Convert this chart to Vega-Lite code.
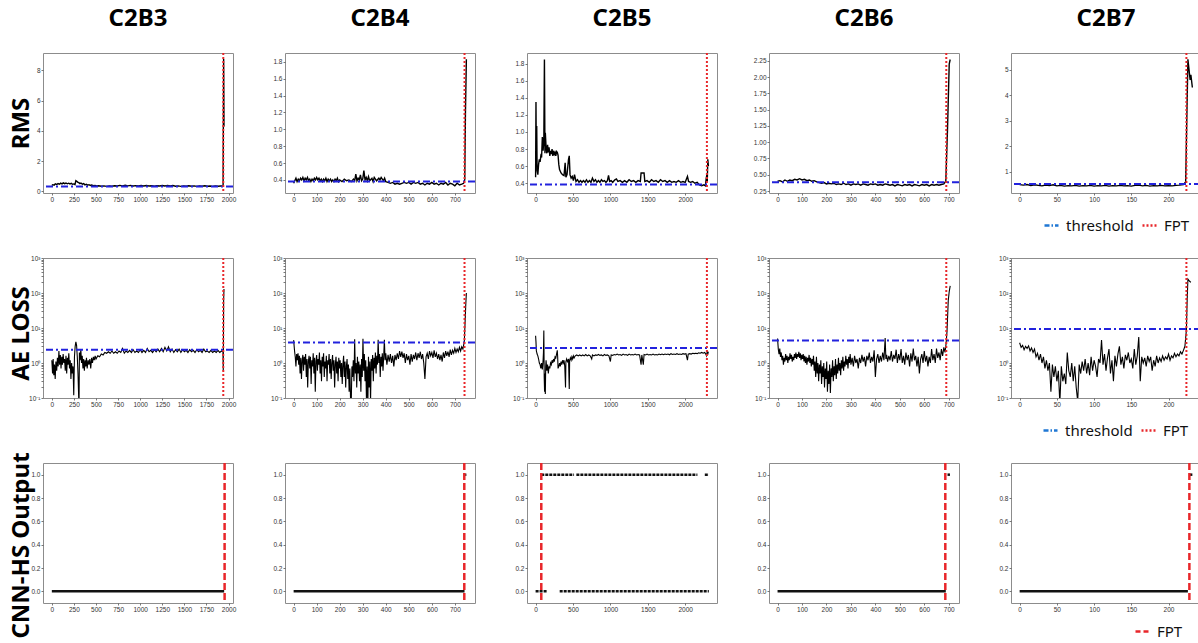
{
"$schema":"https://vega.github.io/schema/vega-lite/v6.json",
"padding":{"left":8,"top":6,"right":0,"bottom":0},
"background":"white",
"config":{
 "view":{"stroke":"#8c8c8c","strokeWidth":1},
 "axis":{"grid":false,"domain":false,"ticks":true,"tickSize":2,"tickColor":"#555","tickWidth":0.8,"labelFont":"Liberation Sans","labelFontSize":6.5,"labelColor":"#333","labelPadding":1,"labelOverlap":false,"labelFlush":false,"labelBound":false,"titleFont":"Noto Sans","titleFontSize":24,"titleFontWeight":"bold","titleColor":"#000"},
 "title":{"font":"Noto Sans","fontSize":24,"fontWeight":"bold","color":"#000","offset":21,"baseline":"alphabetic","frame":"group","anchor":"middle"},
 "legend":{"orient":"none","direction":"horizontal","title":null,"symbolType":"stroke","symbolSize":196,"symbolStrokeWidth":2.5,"labelFontSize":15,"labelFont":"Noto Sans","labelColor":"#111","columnPadding":3,"labelOffset":6,"padding":0,"gridAlign":"none"}
},
"datasets":{
"ref":[
 {"panel":"C2B3","metric":"RMS","threshold":0.33,"fpt":1940},
 {"panel":"C2B4","metric":"RMS","threshold":0.38,"fpt":742},
 {"panel":"C2B5","metric":"RMS","threshold":0.385,"fpt":2290},
 {"panel":"C2B6","metric":"RMS","threshold":0.387,"fpt":690},
 {"panel":"C2B7","metric":"RMS","threshold":0.52,"fpt":224},
 {"panel":"C2B3","metric":"AE","threshold":2.4,"fpt":1940},
 {"panel":"C2B4","metric":"AE","threshold":3.85,"fpt":742},
 {"panel":"C2B5","metric":"AE","threshold":2.7,"fpt":2290},
 {"panel":"C2B6","metric":"AE","threshold":4.4,"fpt":690},
 {"panel":"C2B7","metric":"AE","threshold":9.3,"fpt":224},
 {"panel":"C2B3","metric":"CNN","fpt":1955},
 {"panel":"C2B4","metric":"CNN","fpt":741},
 {"panel":"C2B5","metric":"CNN","fpt":76},
 {"panel":"C2B6","metric":"CNN","fpt":686},
 {"panel":"C2B7","metric":"CNN","fpt":228}
],
"cnn":[
 {"panel":"C2B3","start":0,"end":1950,"out":0},
 {"panel":"C2B4","start":0,"end":742,"out":0},
 {"panel":"C2B4","start":745,"end":750,"out":1},
 {"panel":"C2B5","start":0,"end":152,"out":0},
 {"panel":"C2B5","start":322,"end":2316,"out":0},
 {"panel":"C2B5","start":76,"end":514,"out":1},
 {"panel":"C2B5","start":545,"end":2163,"out":1},
 {"panel":"C2B5","start":2262,"end":2316,"out":1},
 {"panel":"C2B6","start":0,"end":688,"out":0},
 {"panel":"C2B6","start":695,"end":705,"out":1},
 {"panel":"C2B7","start":0,"end":226,"out":0},
 {"panel":"C2B7","start":228,"end":232,"out":1}
],
"leg1":[{"k1":"threshold"},{"k1":"FPT"}],
"leg2":[{"k2":"threshold"},{"k2":"FPT"}],
"leg3":[{"k3":"FPT"}],
"rms_c2b3":[
{"t":0,"v":0.40},{"t":10,"v":0.45},{"t":25,"v":0.42},{"t":40,"v":0.50},{"t":55,"v":0.46},{"t":70,"v":0.52},{"t":85,"v":0.48},{"t":100,"v":0.55},{"t":115,"v":0.50},{"t":130,"v":0.57},{"t":145,"v":0.52},{"t":160,"v":0.56},{"t":175,"v":0.51},{"t":190,"v":0.55},{"t":205,"v":0.50},{"t":220,"v":0.54},{"t":235,"v":0.48},{"t":250,"v":0.50},{"t":262,"v":0.45},{"t":272,"v":0.72},{"t":282,"v":0.68},{"t":292,"v":0.62},{"t":305,"v":0.58},{"t":318,"v":0.52},{"t":330,"v":0.56},{"t":345,"v":0.48},{"t":360,"v":0.52},{"t":375,"v":0.44},{"t":390,"v":0.48},{"t":405,"v":0.42},{"t":420,"v":0.45},{"t":435,"v":0.40},{"t":450,"v":0.43},{"t":470,"v":0.38},{"t":490,"v":0.40},{"t":510,"v":0.36},{"t":530,"v":0.38},{"t":560,"v":0.35},{"t":590,"v":0.37},{"t":620,"v":0.34},{"t":650,"v":0.36},{"t":680,"v":0.35},{"t":710,"v":0.38},{"t":740,"v":0.36},{"t":770,"v":0.40},{"t":800,"v":0.37},{"t":830,"v":0.41},{"t":860,"v":0.37},{"t":890,"v":0.40},{"t":920,"v":0.36},{"t":950,"v":0.39},{"t":980,"v":0.37},{"t":1010,"v":0.40},{"t":1040,"v":0.36},{"t":1070,"v":0.39},{"t":1100,"v":0.36},{"t":1130,"v":0.38},{"t":1160,"v":0.35},{"t":1190,"v":0.38},{"t":1220,"v":0.36},{"t":1250,"v":0.39},{"t":1280,"v":0.36},{"t":1310,"v":0.40},{"t":1340,"v":0.37},{"t":1370,"v":0.39},{"t":1400,"v":0.35},{"t":1430,"v":0.37},{"t":1460,"v":0.34},{"t":1490,"v":0.37},{"t":1520,"v":0.35},{"t":1550,"v":0.38},{"t":1580,"v":0.35},{"t":1610,"v":0.37},{"t":1640,"v":0.34},{"t":1670,"v":0.37},{"t":1700,"v":0.35},{"t":1730,"v":0.38},{"t":1760,"v":0.35},{"t":1790,"v":0.36},{"t":1820,"v":0.34},{"t":1850,"v":0.37},{"t":1880,"v":0.35},{"t":1910,"v":0.36},{"t":1938,"v":0.36},{"t":1944,"v":8.75},{"t":1948,"v":4.3}
],
"rms_c2b4":[
{"t":0,"v":0.36},{"t":5,"v":0.39},{"t":10,"v":0.42},{"t":15,"v":0.38},{"t":20,"v":0.41},{"t":25,"v":0.39},{"t":30,"v":0.42},{"t":35,"v":0.40},{"t":40,"v":0.43},{"t":45,"v":0.39},{"t":50,"v":0.42},{"t":55,"v":0.40},{"t":60,"v":0.43},{"t":65,"v":0.39},{"t":70,"v":0.41},{"t":75,"v":0.38},{"t":80,"v":0.41},{"t":85,"v":0.39},{"t":90,"v":0.42},{"t":95,"v":0.40},{"t":100,"v":0.43},{"t":105,"v":0.40},{"t":110,"v":0.42},{"t":115,"v":0.39},{"t":120,"v":0.41},{"t":125,"v":0.38},{"t":130,"v":0.41},{"t":135,"v":0.39},{"t":140,"v":0.42},{"t":145,"v":0.38},{"t":150,"v":0.41},{"t":155,"v":0.39},{"t":160,"v":0.41},{"t":165,"v":0.38},{"t":170,"v":0.40},{"t":175,"v":0.38},{"t":180,"v":0.41},{"t":185,"v":0.39},{"t":190,"v":0.42},{"t":195,"v":0.38},{"t":200,"v":0.40},{"t":210,"v":0.38},{"t":220,"v":0.41},{"t":230,"v":0.39},{"t":240,"v":0.40},{"t":250,"v":0.38},{"t":260,"v":0.41},{"t":265,"v":0.39},{"t":270,"v":0.47},{"t":275,"v":0.39},{"t":280,"v":0.42},{"t":285,"v":0.40},{"t":290,"v":0.46},{"t":295,"v":0.39},{"t":300,"v":0.41},{"t":305,"v":0.51},{"t":310,"v":0.40},{"t":315,"v":0.43},{"t":320,"v":0.39},{"t":325,"v":0.44},{"t":330,"v":0.39},{"t":340,"v":0.42},{"t":345,"v":0.38},{"t":350,"v":0.43},{"t":360,"v":0.39},{"t":370,"v":0.42},{"t":375,"v":0.40},{"t":380,"v":0.43},{"t":390,"v":0.39},{"t":395,"v":0.42},{"t":400,"v":0.38},{"t":410,"v":0.37},{"t":420,"v":0.36},{"t":430,"v":0.37},{"t":440,"v":0.35},{"t":450,"v":0.36},{"t":460,"v":0.35},{"t":470,"v":0.36},{"t":480,"v":0.37},{"t":490,"v":0.36},{"t":500,"v":0.37},{"t":510,"v":0.35},{"t":520,"v":0.37},{"t":530,"v":0.36},{"t":540,"v":0.37},{"t":550,"v":0.35},{"t":560,"v":0.36},{"t":570,"v":0.34},{"t":580,"v":0.36},{"t":590,"v":0.35},{"t":600,"v":0.37},{"t":610,"v":0.35},{"t":620,"v":0.36},{"t":630,"v":0.34},{"t":640,"v":0.36},{"t":650,"v":0.35},{"t":660,"v":0.37},{"t":670,"v":0.34},{"t":680,"v":0.36},{"t":690,"v":0.35},{"t":700,"v":0.33},{"t":710,"v":0.36},{"t":720,"v":0.34},{"t":730,"v":0.35},{"t":738,"v":0.36},{"t":743,"v":0.40},{"t":746,"v":1.2},{"t":750,"v":1.83}
],
"rms_c2b5":[
{"t":0,"v":0.47},{"t":5,"v":1.35},{"t":10,"v":0.62},{"t":15,"v":1.07},{"t":20,"v":0.55},{"t":30,"v":0.5},{"t":40,"v":0.62},{"t":50,"v":0.68},{"t":60,"v":0.65},{"t":70,"v":0.72},{"t":80,"v":0.7},{"t":90,"v":0.94},{"t":100,"v":0.78},{"t":110,"v":0.9},{"t":118,"v":1.85},{"t":125,"v":0.75},{"t":130,"v":0.99},{"t":140,"v":0.82},{"t":150,"v":0.75},{"t":160,"v":0.85},{"t":170,"v":0.76},{"t":180,"v":0.82},{"t":190,"v":0.72},{"t":200,"v":0.78},{"t":210,"v":0.74},{"t":220,"v":0.8},{"t":230,"v":0.72},{"t":240,"v":0.78},{"t":250,"v":0.74},{"t":260,"v":0.76},{"t":270,"v":0.72},{"t":280,"v":0.77},{"t":290,"v":0.76},{"t":300,"v":0.73},{"t":310,"v":0.62},{"t":320,"v":0.56},{"t":340,"v":0.52},{"t":360,"v":0.5},{"t":380,"v":0.49},{"t":395,"v":0.64},{"t":405,"v":0.47},{"t":420,"v":0.5},{"t":440,"v":0.68},{"t":450,"v":0.72},{"t":460,"v":0.5},{"t":475,"v":0.46},{"t":490,"v":0.48},{"t":505,"v":0.43},{"t":520,"v":0.5},{"t":540,"v":0.42},{"t":560,"v":0.44},{"t":580,"v":0.41},{"t":600,"v":0.43},{"t":620,"v":0.41},{"t":640,"v":0.43},{"t":660,"v":0.41},{"t":680,"v":0.44},{"t":700,"v":0.41},{"t":720,"v":0.43},{"t":740,"v":0.41},{"t":760,"v":0.46},{"t":780,"v":0.42},{"t":800,"v":0.44},{"t":820,"v":0.41},{"t":840,"v":0.43},{"t":860,"v":0.41},{"t":880,"v":0.44},{"t":900,"v":0.42},{"t":920,"v":0.43},{"t":940,"v":0.41},{"t":960,"v":0.43},{"t":975,"v":0.49},{"t":990,"v":0.42},{"t":1010,"v":0.43},{"t":1030,"v":0.41},{"t":1060,"v":0.44},{"t":1080,"v":0.45},{"t":1100,"v":0.42},{"t":1130,"v":0.43},{"t":1160,"v":0.41},{"t":1190,"v":0.43},{"t":1220,"v":0.41},{"t":1250,"v":0.44},{"t":1280,"v":0.42},{"t":1310,"v":0.43},{"t":1340,"v":0.41},{"t":1370,"v":0.43},{"t":1400,"v":0.42},{"t":1410,"v":0.52},{"t":1450,"v":0.52},{"t":1460,"v":0.42},{"t":1490,"v":0.43},{"t":1520,"v":0.41},{"t":1550,"v":0.44},{"t":1580,"v":0.42},{"t":1610,"v":0.43},{"t":1640,"v":0.41},{"t":1670,"v":0.44},{"t":1700,"v":0.42},{"t":1730,"v":0.43},{"t":1760,"v":0.41},{"t":1790,"v":0.43},{"t":1820,"v":0.41},{"t":1850,"v":0.42},{"t":1880,"v":0.41},{"t":1910,"v":0.43},{"t":1940,"v":0.41},{"t":1970,"v":0.42},{"t":2000,"v":0.41},{"t":2030,"v":0.48},{"t":2045,"v":0.42},{"t":2070,"v":0.41},{"t":2100,"v":0.42},{"t":2130,"v":0.40},{"t":2160,"v":0.41},{"t":2190,"v":0.38},{"t":2220,"v":0.37},{"t":2250,"v":0.38},{"t":2270,"v":0.37},{"t":2280,"v":0.45},{"t":2290,"v":0.5},{"t":2295,"v":0.42},{"t":2302,"v":0.68},{"t":2310,"v":0.6}
],
"rms_c2b6":[
{"t":0,"v":0.40},{"t":10,"v":0.41},{"t":20,"v":0.39},{"t":30,"v":0.42},{"t":40,"v":0.40},{"t":50,"v":0.42},{"t":60,"v":0.41},{"t":70,"v":0.43},{"t":80,"v":0.42},{"t":90,"v":0.44},{"t":100,"v":0.42},{"t":110,"v":0.43},{"t":120,"v":0.41},{"t":130,"v":0.42},{"t":140,"v":0.40},{"t":150,"v":0.41},{"t":160,"v":0.39},{"t":170,"v":0.38},{"t":180,"v":0.37},{"t":190,"v":0.38},{"t":200,"v":0.36},{"t":210,"v":0.37},{"t":220,"v":0.36},{"t":230,"v":0.37},{"t":240,"v":0.35},{"t":250,"v":0.36},{"t":260,"v":0.35},{"t":270,"v":0.37},{"t":280,"v":0.35},{"t":290,"v":0.36},{"t":300,"v":0.34},{"t":310,"v":0.36},{"t":320,"v":0.35},{"t":330,"v":0.36},{"t":340,"v":0.34},{"t":350,"v":0.36},{"t":360,"v":0.35},{"t":370,"v":0.34},{"t":380,"v":0.36},{"t":390,"v":0.35},{"t":400,"v":0.36},{"t":410,"v":0.34},{"t":420,"v":0.35},{"t":430,"v":0.34},{"t":440,"v":0.36},{"t":450,"v":0.35},{"t":460,"v":0.34},{"t":470,"v":0.35},{"t":480,"v":0.33},{"t":490,"v":0.35},{"t":500,"v":0.34},{"t":510,"v":0.33},{"t":520,"v":0.35},{"t":530,"v":0.34},{"t":540,"v":0.35},{"t":550,"v":0.33},{"t":560,"v":0.35},{"t":570,"v":0.34},{"t":580,"v":0.33},{"t":590,"v":0.35},{"t":600,"v":0.34},{"t":610,"v":0.35},{"t":620,"v":0.33},{"t":630,"v":0.35},{"t":640,"v":0.34},{"t":650,"v":0.35},{"t":660,"v":0.34},{"t":670,"v":0.35},{"t":680,"v":0.36},{"t":688,"v":0.40},{"t":695,"v":1.2},{"t":702,"v":2.2},{"t":706,"v":2.27}
],
"rms_c2b7":[
{"t":0,"v":0.5},{"t":5,"v":0.48},{"t":10,"v":0.5},{"t":15,"v":0.46},{"t":20,"v":0.49},{"t":25,"v":0.47},{"t":30,"v":0.45},{"t":35,"v":0.48},{"t":40,"v":0.46},{"t":45,"v":0.49},{"t":50,"v":0.45},{"t":55,"v":0.47},{"t":60,"v":0.44},{"t":65,"v":0.46},{"t":70,"v":0.45},{"t":75,"v":0.47},{"t":80,"v":0.44},{"t":85,"v":0.46},{"t":90,"v":0.45},{"t":95,"v":0.47},{"t":100,"v":0.44},{"t":105,"v":0.46},{"t":110,"v":0.45},{"t":115,"v":0.47},{"t":120,"v":0.44},{"t":125,"v":0.46},{"t":130,"v":0.45},{"t":135,"v":0.47},{"t":140,"v":0.45},{"t":145,"v":0.46},{"t":150,"v":0.44},{"t":155,"v":0.47},{"t":160,"v":0.48},{"t":165,"v":0.45},{"t":170,"v":0.47},{"t":175,"v":0.44},{"t":180,"v":0.46},{"t":185,"v":0.45},{"t":190,"v":0.47},{"t":195,"v":0.45},{"t":200,"v":0.46},{"t":205,"v":0.45},{"t":210,"v":0.47},{"t":215,"v":0.48},{"t":220,"v":0.5},{"t":223,"v":0.6},{"t":226,"v":5.4},{"t":229,"v":4.6},{"t":230,"v":4.8},{"t":232,"v":4.3}
],
"ae_c2b3":[
{"t":0,"v":1.2},{"t":8,"v":0.5},{"t":15,"v":1.3},{"t":22,"v":0.45},{"t":30,"v":0.9},{"t":38,"v":0.35},{"t":46,"v":1.1},{"t":55,"v":0.6},{"t":63,"v":1.4},{"t":72,"v":0.8},{"t":80,"v":2.2},{"t":88,"v":0.9},{"t":96,"v":1.7},{"t":104,"v":0.7},{"t":112,"v":1.5},{"t":120,"v":0.9},{"t":128,"v":1.8},{"t":136,"v":1.0},{"t":144,"v":1.3},{"t":152,"v":0.6},{"t":160,"v":1.6},{"t":168,"v":0.5},{"t":176,"v":1.4},{"t":184,"v":0.9},{"t":192,"v":1.9},{"t":200,"v":0.7},{"t":208,"v":1.2},{"t":216,"v":0.35},{"t":224,"v":1.0},{"t":232,"v":0.5},{"t":240,"v":0.8},{"t":248,"v":0.12},{"t":256,"v":1.5},{"t":264,"v":3.0},{"t":272,"v":4.0},{"t":280,"v":3.2},{"t":288,"v":1.5},{"t":296,"v":0.5},{"t":304,"v":0.1},{"t":308,"v":0.08},{"t":312,"v":2.0},{"t":320,"v":1.2},{"t":328,"v":2.5},{"t":336,"v":1.0},{"t":344,"v":1.6},{"t":352,"v":0.7},{"t":360,"v":1.3},{"t":368,"v":0.6},{"t":376,"v":1.2},{"t":384,"v":0.8},{"t":392,"v":1.4},{"t":400,"v":0.7},{"t":410,"v":1.2},{"t":420,"v":0.9},{"t":430,"v":1.3},{"t":440,"v":0.7},{"t":450,"v":1.4},{"t":460,"v":1.0},{"t":470,"v":1.5},{"t":480,"v":1.2},{"t":490,"v":1.6},{"t":500,"v":1.3},{"t":520,"v":1.6},{"t":540,"v":1.5},{"t":560,"v":1.8},{"t":580,"v":1.7},{"t":600,"v":2.0},{"t":620,"v":1.9},{"t":640,"v":2.1},{"t":660,"v":1.9},{"t":680,"v":2.2},{"t":700,"v":1.9},{"t":720,"v":2.1},{"t":740,"v":1.9},{"t":760,"v":2.2},{"t":780,"v":2.0},{"t":800,"v":2.6},{"t":820,"v":1.9},{"t":840,"v":2.2},{"t":860,"v":2.0},{"t":880,"v":2.3},{"t":900,"v":2.0},{"t":920,"v":2.4},{"t":940,"v":2.0},{"t":960,"v":2.2},{"t":980,"v":2.0},{"t":1000,"v":2.4},{"t":1020,"v":2.0},{"t":1040,"v":2.3},{"t":1060,"v":2.0},{"t":1080,"v":2.6},{"t":1100,"v":2.1},{"t":1120,"v":2.3},{"t":1140,"v":2.0},{"t":1160,"v":2.4},{"t":1180,"v":2.1},{"t":1200,"v":2.5},{"t":1220,"v":2.1},{"t":1240,"v":2.6},{"t":1260,"v":2.1},{"t":1280,"v":2.8},{"t":1300,"v":2.2},{"t":1320,"v":2.9},{"t":1340,"v":2.1},{"t":1360,"v":2.5},{"t":1380,"v":2.0},{"t":1400,"v":2.4},{"t":1420,"v":2.1},{"t":1440,"v":2.5},{"t":1460,"v":2.0},{"t":1480,"v":2.4},{"t":1500,"v":2.1},{"t":1520,"v":2.3},{"t":1540,"v":2.0},{"t":1560,"v":2.4},{"t":1580,"v":2.1},{"t":1600,"v":2.3},{"t":1620,"v":2.0},{"t":1640,"v":2.4},{"t":1660,"v":2.1},{"t":1680,"v":2.3},{"t":1700,"v":2.0},{"t":1720,"v":2.5},{"t":1740,"v":2.1},{"t":1760,"v":2.2},{"t":1780,"v":2.0},{"t":1800,"v":2.3},{"t":1820,"v":2.0},{"t":1840,"v":2.2},{"t":1860,"v":2.0},{"t":1880,"v":2.3},{"t":1900,"v":2.0},{"t":1920,"v":2.2},{"t":1936,"v":2.1},{"t":1940,"v":0.6},{"t":1944,"v":60},{"t":1948,"v":130}
],
"ae_c2b4":[
{"t":0,"v":4.5},{"t":4,"v":2.2},{"t":7,"v":1.5},{"t":10,"v":0.8},{"t":13,"v":1.8},{"t":16,"v":1.2},{"t":19,"v":1.9},{"t":22,"v":0.9},{"t":25,"v":1.6},{"t":28,"v":0.5},{"t":31,"v":1.4},{"t":34,"v":0.35},{"t":37,"v":1.2},{"t":40,"v":1.7},{"t":43,"v":0.6},{"t":46,"v":1.5},{"t":49,"v":0.9},{"t":52,"v":1.8},{"t":55,"v":0.4},{"t":58,"v":1.3},{"t":61,"v":0.2},{"t":64,"v":1.1},{"t":67,"v":1.6},{"t":70,"v":0.7},{"t":73,"v":1.5},{"t":76,"v":0.25},{"t":79,"v":1.2},{"t":82,"v":0.8},{"t":85,"v":1.9},{"t":88,"v":0.5},{"t":91,"v":1.4},{"t":94,"v":0.15},{"t":97,"v":1.1},{"t":100,"v":1.7},{"t":103,"v":0.6},{"t":106,"v":1.3},{"t":109,"v":0.9},{"t":112,"v":2.0},{"t":115,"v":0.5},{"t":118,"v":1.2},{"t":121,"v":0.3},{"t":124,"v":1.5},{"t":127,"v":0.8},{"t":130,"v":1.9},{"t":133,"v":0.4},{"t":136,"v":1.1},{"t":139,"v":0.7},{"t":142,"v":1.6},{"t":145,"v":0.3},{"t":148,"v":1.2},{"t":151,"v":0.9},{"t":154,"v":1.8},{"t":157,"v":0.5},{"t":160,"v":1.3},{"t":163,"v":0.35},{"t":166,"v":1.0},{"t":169,"v":1.7},{"t":172,"v":0.6},{"t":175,"v":1.2},{"t":178,"v":0.2},{"t":181,"v":0.9},{"t":184,"v":1.5},{"t":187,"v":0.5},{"t":190,"v":1.1},{"t":193,"v":0.3},{"t":196,"v":1.4},{"t":199,"v":0.7},{"t":202,"v":1.2},{"t":205,"v":0.4},{"t":208,"v":1.0},{"t":211,"v":0.25},{"t":214,"v":0.9},{"t":217,"v":1.6},{"t":220,"v":0.4},{"t":223,"v":1.1},{"t":226,"v":0.2},{"t":229,"v":0.8},{"t":232,"v":1.3},{"t":235,"v":0.35},{"t":238,"v":0.9},{"t":241,"v":0.15},{"t":244,"v":0.7},{"t":247,"v":0.1},{"t":250,"v":0.06},{"t":253,"v":0.8},{"t":256,"v":0.4},{"t":259,"v":1.2},{"t":262,"v":0.3},{"t":265,"v":4.8},{"t":268,"v":0.5},{"t":271,"v":1.0},{"t":274,"v":0.2},{"t":277,"v":1.5},{"t":280,"v":0.5},{"t":283,"v":1.1},{"t":286,"v":0.3},{"t":289,"v":0.9},{"t":292,"v":0.15},{"t":295,"v":1.3},{"t":298,"v":0.4},{"t":301,"v":4.9},{"t":304,"v":0.6},{"t":307,"v":1.8},{"t":310,"v":0.3},{"t":313,"v":1.2},{"t":316,"v":0.1},{"t":319,"v":0.8},{"t":322,"v":0.05},{"t":325,"v":1.5},{"t":328,"v":0.2},{"t":331,"v":1.1},{"t":334,"v":0.08},{"t":337,"v":1.3},{"t":340,"v":0.6},{"t":343,"v":1.7},{"t":346,"v":0.3},{"t":349,"v":1.4},{"t":352,"v":0.7},{"t":355,"v":2.0},{"t":358,"v":0.5},{"t":361,"v":1.6},{"t":364,"v":0.9},{"t":367,"v":4.6},{"t":370,"v":1.0},{"t":373,"v":1.8},{"t":376,"v":0.4},{"t":379,"v":1.5},{"t":382,"v":0.8},{"t":385,"v":1.9},{"t":388,"v":0.6},{"t":391,"v":1.5},{"t":394,"v":4.6},{"t":397,"v":1.2},{"t":400,"v":1.9},{"t":405,"v":0.9},{"t":410,"v":1.7},{"t":415,"v":1.1},{"t":420,"v":1.8},{"t":425,"v":1.0},{"t":430,"v":1.6},{"t":435,"v":0.8},{"t":440,"v":1.7},{"t":445,"v":1.2},{"t":450,"v":1.9},{"t":455,"v":1.3},{"t":460,"v":2.2},{"t":465,"v":1.5},{"t":470,"v":2.1},{"t":475,"v":1.4},{"t":480,"v":1.9},{"t":485,"v":1.0},{"t":490,"v":1.8},{"t":495,"v":1.2},{"t":500,"v":1.6},{"t":505,"v":0.9},{"t":510,"v":1.8},{"t":515,"v":1.1},{"t":520,"v":1.7},{"t":525,"v":1.3},{"t":530,"v":2.0},{"t":535,"v":1.2},{"t":540,"v":1.9},{"t":545,"v":1.4},{"t":550,"v":2.1},{"t":555,"v":1.3},{"t":560,"v":1.8},{"t":565,"v":1.0},{"t":570,"v":0.35},{"t":575,"v":1.5},{"t":580,"v":1.9},{"t":585,"v":1.3},{"t":590,"v":2.2},{"t":595,"v":1.6},{"t":600,"v":2.0},{"t":605,"v":1.4},{"t":610,"v":2.3},{"t":615,"v":1.5},{"t":620,"v":1.9},{"t":625,"v":1.3},{"t":630,"v":1.8},{"t":635,"v":1.2},{"t":640,"v":1.7},{"t":645,"v":1.1},{"t":650,"v":2.0},{"t":655,"v":1.4},{"t":660,"v":2.2},{"t":665,"v":1.6},{"t":670,"v":2.1},{"t":675,"v":1.5},{"t":680,"v":2.4},{"t":685,"v":1.7},{"t":690,"v":2.3},{"t":695,"v":1.9},{"t":700,"v":2.6},{"t":705,"v":2.0},{"t":710,"v":2.5},{"t":715,"v":2.1},{"t":720,"v":2.8},{"t":725,"v":2.2},{"t":730,"v":2.9},{"t":735,"v":2.5},{"t":738,"v":3.2},{"t":741,"v":4},{"t":744,"v":12},{"t":747,"v":40},{"t":750,"v":100}
],
"ae_c2b5":[
{"t":0,"v":6.0},{"t":5,"v":4.0},{"t":10,"v":2.2},{"t":15,"v":2.0},{"t":20,"v":1.8},{"t":30,"v":1.6},{"t":40,"v":1.3},{"t":50,"v":1.0},{"t":60,"v":0.9},{"t":70,"v":0.7},{"t":80,"v":1.0},{"t":90,"v":0.65},{"t":100,"v":1.2},{"t":105,"v":2.0},{"t":110,"v":8.5},{"t":115,"v":0.4},{"t":120,"v":0.15},{"t":125,"v":0.5},{"t":130,"v":0.13},{"t":135,"v":0.8},{"t":140,"v":1.2},{"t":150,"v":0.6},{"t":160,"v":0.9},{"t":170,"v":0.5},{"t":180,"v":0.8},{"t":190,"v":0.7},{"t":200,"v":1.0},{"t":210,"v":0.9},{"t":220,"v":1.2},{"t":230,"v":1.0},{"t":240,"v":1.3},{"t":250,"v":1.1},{"t":260,"v":1.5},{"t":270,"v":1.4},{"t":280,"v":1.8},{"t":290,"v":2.3},{"t":295,"v":1.5},{"t":300,"v":0.7},{"t":310,"v":0.8},{"t":320,"v":1.0},{"t":330,"v":0.8},{"t":340,"v":1.1},{"t":350,"v":0.9},{"t":360,"v":1.2},{"t":370,"v":1.0},{"t":380,"v":1.2},{"t":390,"v":0.8},{"t":400,"v":0.2},{"t":405,"v":1.1},{"t":415,"v":1.3},{"t":425,"v":1.1},{"t":440,"v":1.3},{"t":450,"v":0.18},{"t":455,"v":1.2},{"t":465,"v":1.4},{"t":475,"v":1.2},{"t":485,"v":1.5},{"t":495,"v":1.3},{"t":505,"v":1.6},{"t":515,"v":1.4},{"t":530,"v":1.6},{"t":550,"v":1.7},{"t":570,"v":1.6},{"t":590,"v":1.7},{"t":610,"v":1.6},{"t":630,"v":1.7},{"t":650,"v":1.6},{"t":670,"v":1.75},{"t":690,"v":1.6},{"t":710,"v":1.7},{"t":730,"v":1.6},{"t":750,"v":1.3},{"t":760,"v":1.7},{"t":780,"v":1.6},{"t":800,"v":1.7},{"t":820,"v":1.65},{"t":840,"v":1.75},{"t":860,"v":1.65},{"t":880,"v":1.7},{"t":900,"v":1.6},{"t":920,"v":1.75},{"t":940,"v":1.65},{"t":960,"v":1.7},{"t":980,"v":1.6},{"t":1000,"v":1.1},{"t":1010,"v":1.7},{"t":1030,"v":1.65},{"t":1050,"v":1.75},{"t":1070,"v":1.7},{"t":1090,"v":1.8},{"t":1110,"v":1.7},{"t":1130,"v":1.75},{"t":1150,"v":1.65},{"t":1170,"v":1.8},{"t":1190,"v":1.7},{"t":1210,"v":1.75},{"t":1230,"v":1.65},{"t":1250,"v":1.8},{"t":1270,"v":1.7},{"t":1290,"v":1.75},{"t":1310,"v":1.7},{"t":1330,"v":1.8},{"t":1350,"v":1.7},{"t":1370,"v":1.75},{"t":1390,"v":1.7},{"t":1410,"v":0.9},{"t":1420,"v":1.7},{"t":1440,"v":0.9},{"t":1450,"v":1.75},{"t":1470,"v":1.7},{"t":1490,"v":1.8},{"t":1510,"v":1.7},{"t":1530,"v":1.75},{"t":1550,"v":1.7},{"t":1570,"v":1.8},{"t":1590,"v":1.7},{"t":1610,"v":1.75},{"t":1630,"v":1.7},{"t":1650,"v":1.8},{"t":1670,"v":1.72},{"t":1690,"v":1.8},{"t":1710,"v":1.72},{"t":1730,"v":1.8},{"t":1750,"v":1.75},{"t":1770,"v":1.8},{"t":1790,"v":1.72},{"t":1810,"v":1.85},{"t":1830,"v":1.75},{"t":1850,"v":1.8},{"t":1870,"v":1.75},{"t":1890,"v":1.85},{"t":1910,"v":1.75},{"t":1930,"v":1.8},{"t":1950,"v":1.75},{"t":1970,"v":1.85},{"t":1990,"v":1.8},{"t":2010,"v":1.85},{"t":2030,"v":1.2},{"t":2040,"v":1.8},{"t":2060,"v":1.85},{"t":2080,"v":1.8},{"t":2100,"v":1.9},{"t":2120,"v":1.85},{"t":2140,"v":1.9},{"t":2160,"v":1.85},{"t":2180,"v":1.95},{"t":2200,"v":1.9},{"t":2220,"v":2.0},{"t":2240,"v":1.9},{"t":2260,"v":2.0},{"t":2275,"v":1.8},{"t":2285,"v":1.6},{"t":2295,"v":2.2},{"t":2305,"v":1.9},{"t":2310,"v":2.1}
],
"ae_c2b6":[
{"t":0,"v":5.0},{"t":3,"v":2.5},{"t":6,"v":1.8},{"t":9,"v":2.6},{"t":12,"v":1.5},{"t":15,"v":2.0},{"t":18,"v":1.2},{"t":21,"v":1.6},{"t":24,"v":0.9},{"t":27,"v":1.4},{"t":30,"v":1.1},{"t":33,"v":1.8},{"t":36,"v":1.2},{"t":39,"v":1.6},{"t":42,"v":1.0},{"t":45,"v":1.5},{"t":48,"v":1.2},{"t":51,"v":1.9},{"t":54,"v":1.3},{"t":57,"v":1.7},{"t":60,"v":1.1},{"t":63,"v":1.5},{"t":66,"v":1.2},{"t":69,"v":1.8},{"t":72,"v":1.4},{"t":75,"v":2.0},{"t":78,"v":1.3},{"t":81,"v":1.8},{"t":84,"v":1.5},{"t":87,"v":2.1},{"t":90,"v":1.4},{"t":93,"v":1.9},{"t":96,"v":1.2},{"t":99,"v":1.7},{"t":102,"v":1.3},{"t":105,"v":1.8},{"t":108,"v":1.1},{"t":111,"v":1.6},{"t":114,"v":1.0},{"t":117,"v":1.5},{"t":120,"v":0.9},{"t":123,"v":1.4},{"t":126,"v":1.1},{"t":129,"v":1.7},{"t":132,"v":1.0},{"t":135,"v":1.4},{"t":138,"v":0.8},{"t":141,"v":1.3},{"t":144,"v":0.9},{"t":147,"v":1.6},{"t":150,"v":0.6},{"t":153,"v":1.1},{"t":156,"v":0.4},{"t":159,"v":1.5},{"t":162,"v":0.5},{"t":165,"v":1.0},{"t":168,"v":0.3},{"t":171,"v":0.9},{"t":174,"v":0.5},{"t":177,"v":1.2},{"t":180,"v":0.25},{"t":183,"v":0.8},{"t":186,"v":0.4},{"t":189,"v":1.0},{"t":192,"v":0.2},{"t":195,"v":0.7},{"t":198,"v":0.35},{"t":201,"v":1.1},{"t":204,"v":0.15},{"t":207,"v":0.6},{"t":210,"v":0.25},{"t":213,"v":0.9},{"t":216,"v":0.14},{"t":219,"v":0.7},{"t":222,"v":0.4},{"t":225,"v":1.2},{"t":228,"v":0.3},{"t":231,"v":0.8},{"t":234,"v":0.45},{"t":237,"v":1.3},{"t":240,"v":0.35},{"t":243,"v":0.9},{"t":246,"v":0.5},{"t":249,"v":1.4},{"t":252,"v":0.6},{"t":255,"v":1.0},{"t":258,"v":0.45},{"t":261,"v":1.2},{"t":264,"v":0.7},{"t":267,"v":1.5},{"t":270,"v":0.6},{"t":273,"v":1.1},{"t":276,"v":0.8},{"t":279,"v":1.6},{"t":282,"v":0.9},{"t":285,"v":1.3},{"t":288,"v":0.7},{"t":291,"v":1.5},{"t":294,"v":1.0},{"t":297,"v":1.8},{"t":300,"v":0.9},{"t":305,"v":1.4},{"t":310,"v":0.8},{"t":315,"v":1.6},{"t":320,"v":1.0},{"t":325,"v":1.3},{"t":330,"v":0.7},{"t":335,"v":1.4},{"t":340,"v":1.0},{"t":345,"v":1.7},{"t":350,"v":1.1},{"t":355,"v":1.5},{"t":360,"v":0.8},{"t":365,"v":1.6},{"t":370,"v":1.2},{"t":375,"v":2.0},{"t":380,"v":1.0},{"t":385,"v":1.5},{"t":390,"v":1.1},{"t":395,"v":2.3},{"t":400,"v":0.4},{"t":405,"v":1.3},{"t":410,"v":1.8},{"t":415,"v":1.0},{"t":420,"v":1.6},{"t":425,"v":1.1},{"t":430,"v":2.0},{"t":435,"v":1.2},{"t":440,"v":5.2},{"t":443,"v":1.3},{"t":446,"v":1.7},{"t":450,"v":1.1},{"t":455,"v":1.6},{"t":460,"v":1.2},{"t":465,"v":2.2},{"t":470,"v":1.1},{"t":475,"v":1.7},{"t":480,"v":1.3},{"t":485,"v":2.4},{"t":490,"v":1.0},{"t":495,"v":1.8},{"t":500,"v":1.2},{"t":505,"v":2.5},{"t":510,"v":1.0},{"t":515,"v":1.6},{"t":520,"v":0.9},{"t":525,"v":2.0},{"t":530,"v":1.2},{"t":535,"v":1.7},{"t":540,"v":0.8},{"t":545,"v":1.9},{"t":550,"v":1.1},{"t":555,"v":2.6},{"t":560,"v":1.2},{"t":565,"v":1.6},{"t":570,"v":0.8},{"t":575,"v":1.5},{"t":580,"v":0.5},{"t":585,"v":1.3},{"t":590,"v":1.8},{"t":595,"v":1.0},{"t":600,"v":2.2},{"t":605,"v":1.1},{"t":610,"v":1.6},{"t":615,"v":0.8},{"t":620,"v":1.5},{"t":625,"v":1.0},{"t":630,"v":2.5},{"t":635,"v":1.2},{"t":640,"v":1.8},{"t":645,"v":1.0},{"t":650,"v":2.6},{"t":655,"v":1.4},{"t":660,"v":2.0},{"t":665,"v":1.2},{"t":670,"v":2.5},{"t":675,"v":1.6},{"t":680,"v":2.8},{"t":685,"v":2.0},{"t":689,"v":3.5},{"t":693,"v":8},{"t":698,"v":60},{"t":702,"v":110},{"t":706,"v":160}
],
"ae_c2b7":[
{"t":0,"v":3.8},{"t":2,"v":2.8},{"t":4,"v":3.2},{"t":6,"v":2.4},{"t":8,"v":3.0},{"t":10,"v":2.6},{"t":12,"v":3.1},{"t":14,"v":2.2},{"t":16,"v":2.7},{"t":18,"v":2.0},{"t":20,"v":2.5},{"t":22,"v":1.5},{"t":24,"v":1.9},{"t":26,"v":1.2},{"t":28,"v":1.8},{"t":30,"v":1.0},{"t":32,"v":1.5},{"t":34,"v":0.7},{"t":36,"v":1.2},{"t":38,"v":0.6},{"t":40,"v":1.0},{"t":42,"v":0.15},{"t":44,"v":0.9},{"t":46,"v":0.4},{"t":48,"v":0.8},{"t":50,"v":0.3},{"t":52,"v":0.6},{"t":54,"v":0.07},{"t":56,"v":0.8},{"t":58,"v":0.3},{"t":60,"v":0.5},{"t":62,"v":0.25},{"t":64,"v":2.0},{"t":66,"v":0.6},{"t":68,"v":0.4},{"t":70,"v":1.0},{"t":72,"v":0.3},{"t":74,"v":0.8},{"t":76,"v":0.2},{"t":78,"v":0.08},{"t":80,"v":0.9},{"t":82,"v":0.5},{"t":84,"v":1.1},{"t":86,"v":0.6},{"t":88,"v":1.3},{"t":90,"v":0.5},{"t":92,"v":1.0},{"t":94,"v":0.45},{"t":96,"v":1.5},{"t":98,"v":0.6},{"t":100,"v":1.2},{"t":102,"v":0.8},{"t":104,"v":0.4},{"t":106,"v":1.3},{"t":108,"v":1.0},{"t":110,"v":4.5},{"t":112,"v":0.9},{"t":114,"v":1.8},{"t":116,"v":0.6},{"t":118,"v":1.4},{"t":120,"v":2.5},{"t":122,"v":0.5},{"t":124,"v":1.2},{"t":126,"v":0.3},{"t":128,"v":1.6},{"t":130,"v":0.8},{"t":132,"v":1.8},{"t":134,"v":3.0},{"t":136,"v":0.9},{"t":138,"v":1.5},{"t":140,"v":0.7},{"t":142,"v":1.7},{"t":144,"v":1.2},{"t":146,"v":2.0},{"t":148,"v":1.0},{"t":150,"v":1.3},{"t":152,"v":0.7},{"t":154,"v":2.5},{"t":156,"v":0.9},{"t":158,"v":1.6},{"t":160,"v":5.5},{"t":162,"v":0.3},{"t":164,"v":1.5},{"t":166,"v":1.0},{"t":168,"v":1.4},{"t":170,"v":0.8},{"t":172,"v":1.6},{"t":174,"v":1.1},{"t":176,"v":1.5},{"t":178,"v":0.6},{"t":180,"v":1.2},{"t":182,"v":0.8},{"t":184,"v":1.6},{"t":186,"v":1.0},{"t":188,"v":1.4},{"t":190,"v":1.1},{"t":192,"v":1.6},{"t":194,"v":1.2},{"t":196,"v":1.5},{"t":198,"v":1.3},{"t":200,"v":1.8},{"t":202,"v":1.2},{"t":204,"v":1.6},{"t":206,"v":1.4},{"t":208,"v":1.9},{"t":210,"v":1.5},{"t":212,"v":1.8},{"t":214,"v":1.6},{"t":216,"v":2.1},{"t":218,"v":1.8},{"t":220,"v":2.3},{"t":222,"v":3.0},{"t":224,"v":9},{"t":225,"v":60},{"t":226,"v":250},{"t":228,"v":220},{"t":230,"v":200}
]
},
"bounds":"flush",
"columns":5,
"spacing":{"row":65,"column":52},
"resolve":{"scale":{"color":"independent","strokeDash":"independent"},"legend":{"color":"independent","strokeDash":"independent"}},
"concat":[
 {"width":190,"height":140,"title":{"text":"C2B3"},
  "layer":[
   {"data":{"name":"rms_c2b3"},"mark":{"type":"line","color":"#000","strokeWidth":1.4,"clip":true},
    "encoding":{"x":{"field":"t","type":"quantitative","scale":{"domain":[-100,2050],"nice":false,"zero":false},"axis":{"values":[0,250,500,750,1000,1250,1500,1750,2000],"tickCount":100,"format":"d","labelOverlap":false,"title":null}},
     "y":{"field":"v","type":"quantitative","scale":{"domain":[-0.1,9.15],"nice":false,"zero":false},"axis":{"values":[0,2,4,6,8],"tickCount":100,"format":"d","labelOverlap":false,"title":"RMS","titleX":-15,"titleY":70,"titleBaseline":"alphabetic"}}}},
   {"data":{"name":"ref"},"transform":[{"filter":"datum.panel=='C2B3' && datum.metric=='RMS'"}],"mark":{"type":"rule","color":"#2222dd","strokeWidth":2,"strokeDash":[7,3,2,3]},"encoding":{"y":{"field":"threshold","type":"quantitative"}}},
   {"data":{"name":"ref"},"transform":[{"filter":"datum.panel=='C2B3' && datum.metric=='RMS'"}],"mark":{"type":"rule","color":"#e8262a","strokeWidth":2,"strokeDash":[2,2]},"encoding":{"x":{"field":"fpt","type":"quantitative"}}}
  ]},
 {"width":190,"height":140,"title":{"text":"C2B4"},
  "layer":[
   {"data":{"name":"rms_c2b4"},"mark":{"type":"line","color":"#000","strokeWidth":1.4,"clip":true},
    "encoding":{"x":{"field":"t","type":"quantitative","scale":{"domain":[-37.5,787.5],"nice":false,"zero":false},"axis":{"values":[0,100,200,300,400,500,600,700],"tickCount":100,"format":"d","labelOverlap":false,"title":null}},
     "y":{"field":"v","type":"quantitative","scale":{"domain":[0.245,1.905],"nice":false,"zero":false},"axis":{"values":[0.4,0.6,0.8,1.0,1.2,1.4,1.6,1.8],"tickCount":100,"format":".1f","labelOverlap":false,"title":null}}}},
   {"data":{"name":"ref"},"transform":[{"filter":"datum.panel=='C2B4' && datum.metric=='RMS'"}],"mark":{"type":"rule","color":"#2222dd","strokeWidth":2,"strokeDash":[7,3,2,3]},"encoding":{"y":{"field":"threshold","type":"quantitative"}}},
   {"data":{"name":"ref"},"transform":[{"filter":"datum.panel=='C2B4' && datum.metric=='RMS'"}],"mark":{"type":"rule","color":"#e8262a","strokeWidth":2,"strokeDash":[2,2]},"encoding":{"x":{"field":"fpt","type":"quantitative"}}}
  ]},
 {"width":190,"height":140,"title":{"text":"C2B5"},
  "layer":[
   {"data":{"name":"rms_c2b5"},"mark":{"type":"line","color":"#000","strokeWidth":1.4,"clip":true},
    "encoding":{"x":{"field":"t","type":"quantitative","scale":{"domain":[-115,2425],"nice":false,"zero":false},"axis":{"values":[0,500,1000,1500,2000],"tickCount":100,"format":"d","labelOverlap":false,"title":null}},
     "y":{"field":"v","type":"quantitative","scale":{"domain":[0.285,1.925],"nice":false,"zero":false},"axis":{"values":[0.4,0.6,0.8,1.0,1.2,1.4,1.6,1.8],"tickCount":100,"format":".1f","labelOverlap":false,"title":null}}}},
   {"data":{"name":"ref"},"transform":[{"filter":"datum.panel=='C2B5' && datum.metric=='RMS'"}],"mark":{"type":"rule","color":"#2222dd","strokeWidth":2,"strokeDash":[7,3,2,3]},"encoding":{"y":{"field":"threshold","type":"quantitative"}}},
   {"data":{"name":"ref"},"transform":[{"filter":"datum.panel=='C2B5' && datum.metric=='RMS'"}],"mark":{"type":"rule","color":"#e8262a","strokeWidth":2,"strokeDash":[2,2]},"encoding":{"x":{"field":"fpt","type":"quantitative"}}}
  ]},
 {"width":190,"height":140,"title":{"text":"C2B6"},
  "layer":[
   {"data":{"name":"rms_c2b6"},"mark":{"type":"line","color":"#000","strokeWidth":1.4,"clip":true},
    "encoding":{"x":{"field":"t","type":"quantitative","scale":{"domain":[-35,742],"nice":false,"zero":false},"axis":{"values":[0,100,200,300,400,500,600,700],"tickCount":100,"format":"d","labelOverlap":false,"title":null}},
     "y":{"field":"v","type":"quantitative","scale":{"domain":[0.22,2.37],"nice":false,"zero":false},"axis":{"values":[0.25,0.5,0.75,1.0,1.25,1.5,1.75,2.0,2.25],"tickCount":100,"format":".2f","labelOverlap":false,"title":null}}}},
   {"data":{"name":"ref"},"transform":[{"filter":"datum.panel=='C2B6' && datum.metric=='RMS'"}],"mark":{"type":"rule","color":"#2222dd","strokeWidth":2,"strokeDash":[7,3,2,3]},"encoding":{"y":{"field":"threshold","type":"quantitative"}}},
   {"data":{"name":"ref"},"transform":[{"filter":"datum.panel=='C2B6' && datum.metric=='RMS'"}],"mark":{"type":"rule","color":"#e8262a","strokeWidth":2,"strokeDash":[2,2]},"encoding":{"x":{"field":"fpt","type":"quantitative"}}}
  ]},
 {"width":190,"height":140,"title":{"text":"C2B7"},
  "layer":[
   {"data":{"name":"rms_c2b7"},"mark":{"type":"line","color":"#000","strokeWidth":1.4,"clip":true},
    "encoding":{"x":{"field":"t","type":"quantitative","scale":{"domain":[-11.6,243.6],"nice":false,"zero":false},"axis":{"values":[0,50,100,150,200],"tickCount":100,"format":"d","labelOverlap":false,"title":null}},
     "y":{"field":"v","type":"quantitative","scale":{"domain":[0.17,5.65],"nice":false,"zero":false},"axis":{"values":[1,2,3,4,5],"tickCount":100,"format":"d","labelOverlap":false,"title":null}}}},
   {"data":{"name":"ref"},"transform":[{"filter":"datum.panel=='C2B7' && datum.metric=='RMS'"}],"mark":{"type":"rule","color":"#2222dd","strokeWidth":2,"strokeDash":[7,3,2,3]},"encoding":{"y":{"field":"threshold","type":"quantitative"}}},
   {"data":{"name":"ref"},"transform":[{"filter":"datum.panel=='C2B7' && datum.metric=='RMS'"}],"mark":{"type":"rule","color":"#e8262a","strokeWidth":2,"strokeDash":[2,2]},"encoding":{"x":{"field":"fpt","type":"quantitative"}}},
   {"data":{"name":"leg1"},"mark":{"type":"rule","strokeWidth":2.5},
    "encoding":{"x":{"datum":100,"type":"quantitative"},"x2":{"datum":100},"y":{"datum":1,"type":"quantitative"},
     "color":{"field":"k1","type":"nominal","scale":{"domain":["threshold","FPT"],"range":["#1f77d4","#e8262a"]},"legend":{"legendX":32,"legendY":164}},
     "strokeDash":{"field":"k1","type":"nominal","scale":{"domain":["threshold","FPT"],"range":[[5,2,1.5,2],[2,2]]},"legend":{"legendX":32,"legendY":164}}}}
  ]},
 {"width":190,"height":140,
  "layer":[
   {"data":{"name":"ae_c2b3"},"mark":{"type":"line","color":"#000","strokeWidth":1.1,"clip":true},
    "encoding":{"x":{"field":"t","type":"quantitative","scale":{"domain":[-100,2050],"nice":false,"zero":false},"axis":{"values":[0,250,500,750,1000,1250,1500,1750,2000],"tickCount":100,"format":"d","labelOverlap":false,"title":null}},
     "y":{"field":"v","type":"quantitative","scale":{"type":"log","domain":[0.1,1000],"nice":false},"axis":{"values":[0.1,0.2,0.3,0.4,0.5,0.6,0.7,0.8,0.9,1,2,3,4,5,6,7,8,9,10,20,30,40,50,60,70,80,90,100,200,300,400,500,600,700,800,900,1000],"tickCount":100,"labelOverlap":false,"labelExpr":"datum.value==0.1?'10⁻¹':datum.value==1?'10⁰':datum.value==10?'10¹':datum.value==100?'10²':datum.value==1000?'10³':''","title":"AE LOSS","titleX":-15,"titleY":75,"titleBaseline":"alphabetic"}}}},
   {"data":{"name":"ref"},"transform":[{"filter":"datum.panel=='C2B3' && datum.metric=='AE'"}],"mark":{"type":"rule","color":"#2222dd","strokeWidth":2,"strokeDash":[7,3,2,3]},"encoding":{"y":{"field":"threshold","type":"quantitative"}}},
   {"data":{"name":"ref"},"transform":[{"filter":"datum.panel=='C2B3' && datum.metric=='AE'"}],"mark":{"type":"rule","color":"#e8262a","strokeWidth":2,"strokeDash":[2,2]},"encoding":{"x":{"field":"fpt","type":"quantitative"}}}
  ]},
 {"width":190,"height":140,
  "layer":[
   {"data":{"name":"ae_c2b4"},"mark":{"type":"line","color":"#000","strokeWidth":1.1,"clip":true},
    "encoding":{"x":{"field":"t","type":"quantitative","scale":{"domain":[-37.5,787.5],"nice":false,"zero":false},"axis":{"values":[0,100,200,300,400,500,600,700],"tickCount":100,"format":"d","labelOverlap":false,"title":null}},
     "y":{"field":"v","type":"quantitative","scale":{"type":"log","domain":[0.1,1000],"nice":false},"axis":{"values":[0.1,0.2,0.3,0.4,0.5,0.6,0.7,0.8,0.9,1,2,3,4,5,6,7,8,9,10,20,30,40,50,60,70,80,90,100,200,300,400,500,600,700,800,900,1000],"tickCount":100,"labelOverlap":false,"labelExpr":"datum.value==0.1?'10⁻¹':datum.value==1?'10⁰':datum.value==10?'10¹':datum.value==100?'10²':datum.value==1000?'10³':''","title":null}}}},
   {"data":{"name":"ref"},"transform":[{"filter":"datum.panel=='C2B4' && datum.metric=='AE'"}],"mark":{"type":"rule","color":"#2222dd","strokeWidth":2,"strokeDash":[7,3,2,3]},"encoding":{"y":{"field":"threshold","type":"quantitative"}}},
   {"data":{"name":"ref"},"transform":[{"filter":"datum.panel=='C2B4' && datum.metric=='AE'"}],"mark":{"type":"rule","color":"#e8262a","strokeWidth":2,"strokeDash":[2,2]},"encoding":{"x":{"field":"fpt","type":"quantitative"}}}
  ]},
 {"width":190,"height":140,
  "layer":[
   {"data":{"name":"ae_c2b5"},"mark":{"type":"line","color":"#000","strokeWidth":1.1,"clip":true},
    "encoding":{"x":{"field":"t","type":"quantitative","scale":{"domain":[-115,2425],"nice":false,"zero":false},"axis":{"values":[0,500,1000,1500,2000],"tickCount":100,"format":"d","labelOverlap":false,"title":null}},
     "y":{"field":"v","type":"quantitative","scale":{"type":"log","domain":[0.1,1000],"nice":false},"axis":{"values":[0.1,0.2,0.3,0.4,0.5,0.6,0.7,0.8,0.9,1,2,3,4,5,6,7,8,9,10,20,30,40,50,60,70,80,90,100,200,300,400,500,600,700,800,900,1000],"tickCount":100,"labelOverlap":false,"labelExpr":"datum.value==0.1?'10⁻¹':datum.value==1?'10⁰':datum.value==10?'10¹':datum.value==100?'10²':datum.value==1000?'10³':''","title":null}}}},
   {"data":{"name":"ref"},"transform":[{"filter":"datum.panel=='C2B5' && datum.metric=='AE'"}],"mark":{"type":"rule","color":"#2222dd","strokeWidth":2,"strokeDash":[7,3,2,3]},"encoding":{"y":{"field":"threshold","type":"quantitative"}}},
   {"data":{"name":"ref"},"transform":[{"filter":"datum.panel=='C2B5' && datum.metric=='AE'"}],"mark":{"type":"rule","color":"#e8262a","strokeWidth":2,"strokeDash":[2,2]},"encoding":{"x":{"field":"fpt","type":"quantitative"}}}
  ]},
 {"width":190,"height":140,
  "layer":[
   {"data":{"name":"ae_c2b6"},"mark":{"type":"line","color":"#000","strokeWidth":1.1,"clip":true},
    "encoding":{"x":{"field":"t","type":"quantitative","scale":{"domain":[-35,742],"nice":false,"zero":false},"axis":{"values":[0,100,200,300,400,500,600,700],"tickCount":100,"format":"d","labelOverlap":false,"title":null}},
     "y":{"field":"v","type":"quantitative","scale":{"type":"log","domain":[0.1,1000],"nice":false},"axis":{"values":[0.1,0.2,0.3,0.4,0.5,0.6,0.7,0.8,0.9,1,2,3,4,5,6,7,8,9,10,20,30,40,50,60,70,80,90,100,200,300,400,500,600,700,800,900,1000],"tickCount":100,"labelOverlap":false,"labelExpr":"datum.value==0.1?'10⁻¹':datum.value==1?'10⁰':datum.value==10?'10¹':datum.value==100?'10²':datum.value==1000?'10³':''","title":null}}}},
   {"data":{"name":"ref"},"transform":[{"filter":"datum.panel=='C2B6' && datum.metric=='AE'"}],"mark":{"type":"rule","color":"#2222dd","strokeWidth":2,"strokeDash":[7,3,2,3]},"encoding":{"y":{"field":"threshold","type":"quantitative"}}},
   {"data":{"name":"ref"},"transform":[{"filter":"datum.panel=='C2B6' && datum.metric=='AE'"}],"mark":{"type":"rule","color":"#e8262a","strokeWidth":2,"strokeDash":[2,2]},"encoding":{"x":{"field":"fpt","type":"quantitative"}}}
  ]},
 {"width":190,"height":140,
  "layer":[
   {"data":{"name":"ae_c2b7"},"mark":{"type":"line","color":"#000","strokeWidth":1.1,"clip":true},
    "encoding":{"x":{"field":"t","type":"quantitative","scale":{"domain":[-11.6,243.6],"nice":false,"zero":false},"axis":{"values":[0,50,100,150,200],"tickCount":100,"format":"d","labelOverlap":false,"title":null}},
     "y":{"field":"v","type":"quantitative","scale":{"type":"log","domain":[0.1,1000],"nice":false},"axis":{"values":[0.1,0.2,0.3,0.4,0.5,0.6,0.7,0.8,0.9,1,2,3,4,5,6,7,8,9,10,20,30,40,50,60,70,80,90,100,200,300,400,500,600,700,800,900,1000],"tickCount":100,"labelOverlap":false,"labelExpr":"datum.value==0.1?'10⁻¹':datum.value==1?'10⁰':datum.value==10?'10¹':datum.value==100?'10²':datum.value==1000?'10³':''","title":null}}}},
   {"data":{"name":"ref"},"transform":[{"filter":"datum.panel=='C2B7' && datum.metric=='AE'"}],"mark":{"type":"rule","color":"#2222dd","strokeWidth":2,"strokeDash":[7,3,2,3]},"encoding":{"y":{"field":"threshold","type":"quantitative"}}},
   {"data":{"name":"ref"},"transform":[{"filter":"datum.panel=='C2B7' && datum.metric=='AE'"}],"mark":{"type":"rule","color":"#e8262a","strokeWidth":2,"strokeDash":[2,2]},"encoding":{"x":{"field":"fpt","type":"quantitative"}}},
   {"data":{"name":"leg2"},"mark":{"type":"rule","strokeWidth":2.5},
    "encoding":{"x":{"datum":100,"type":"quantitative"},"x2":{"datum":100},"y":{"datum":1,"type":"quantitative"},
     "color":{"field":"k2","type":"nominal","scale":{"domain":["threshold","FPT"],"range":["#1f77d4","#e8262a"]},"legend":{"legendX":31,"legendY":164}},
     "strokeDash":{"field":"k2","type":"nominal","scale":{"domain":["threshold","FPT"],"range":[[5,2,1.5,2],[2,2]]},"legend":{"legendX":31,"legendY":164}}}}
  ]},
 {"width":190,"height":140,
  "layer":[
   {"data":{"name":"cnn"},"transform":[{"filter":"datum.panel=='C2B3'"}],"mark":{"type":"rule","color":"#111","strokeWidth":2.5,"clip":true},
    "encoding":{"x":{"field":"start","type":"quantitative","scale":{"domain":[-100,2050],"nice":false,"zero":false},"axis":{"values":[0,250,500,750,1000,1250,1500,1750,2000],"tickCount":100,"format":"d","labelOverlap":false,"title":null}},"x2":{"field":"end"},
     "y":{"field":"out","type":"quantitative","scale":{"domain":[-0.1,1.1],"nice":false,"zero":false},"axis":{"values":[0,0.2,0.4,0.6,0.8,1.0],"tickCount":100,"format":".1f","labelOverlap":false,"title":"CNN-HS Output","titleX":-15,"titleY":82,"titleBaseline":"alphabetic"}}}},
   {"data":{"name":"ref"},"transform":[{"filter":"datum.panel=='C2B3' && datum.metric=='CNN'"}],"mark":{"type":"rule","color":"#e8262a","strokeWidth":2.5,"strokeDash":[7,3]},"encoding":{"x":{"field":"fpt","type":"quantitative"}}}
  ]},
 {"width":190,"height":140,
  "layer":[
   {"data":{"name":"cnn"},"transform":[{"filter":"datum.panel=='C2B4'"}],"mark":{"type":"rule","color":"#111","strokeWidth":2.5,"clip":true},
    "encoding":{"x":{"field":"start","type":"quantitative","scale":{"domain":[-37.5,787.5],"nice":false,"zero":false},"axis":{"values":[0,100,200,300,400,500,600,700],"tickCount":100,"format":"d","labelOverlap":false,"title":null}},"x2":{"field":"end"},
     "y":{"field":"out","type":"quantitative","scale":{"domain":[-0.1,1.1],"nice":false,"zero":false},"axis":{"values":[0,0.2,0.4,0.6,0.8,1.0],"tickCount":100,"format":".1f","labelOverlap":false,"title":null}}}},
   {"data":{"name":"ref"},"transform":[{"filter":"datum.panel=='C2B4' && datum.metric=='CNN'"}],"mark":{"type":"rule","color":"#e8262a","strokeWidth":2.5,"strokeDash":[7,3]},"encoding":{"x":{"field":"fpt","type":"quantitative"}}}
  ]},
 {"width":190,"height":140,
  "layer":[
   {"data":{"name":"cnn"},"transform":[{"filter":"datum.panel=='C2B5'"}],"mark":{"type":"rule","color":"#111","strokeWidth":2.5,"strokeDash":[3,1],"clip":true},
    "encoding":{"x":{"field":"start","type":"quantitative","scale":{"domain":[-115,2425],"nice":false,"zero":false},"axis":{"values":[0,500,1000,1500,2000],"tickCount":100,"format":"d","labelOverlap":false,"title":null}},"x2":{"field":"end"},
     "y":{"field":"out","type":"quantitative","scale":{"domain":[-0.1,1.1],"nice":false,"zero":false},"axis":{"values":[0,0.2,0.4,0.6,0.8,1.0],"tickCount":100,"format":".1f","labelOverlap":false,"title":null}}}},
   {"data":{"name":"ref"},"transform":[{"filter":"datum.panel=='C2B5' && datum.metric=='CNN'"}],"mark":{"type":"rule","color":"#e8262a","strokeWidth":2.5,"strokeDash":[7,3]},"encoding":{"x":{"field":"fpt","type":"quantitative"}}}
  ]},
 {"width":190,"height":140,
  "layer":[
   {"data":{"name":"cnn"},"transform":[{"filter":"datum.panel=='C2B6'"}],"mark":{"type":"rule","color":"#111","strokeWidth":2.5,"clip":true},
    "encoding":{"x":{"field":"start","type":"quantitative","scale":{"domain":[-35,742],"nice":false,"zero":false},"axis":{"values":[0,100,200,300,400,500,600,700],"tickCount":100,"format":"d","labelOverlap":false,"title":null}},"x2":{"field":"end"},
     "y":{"field":"out","type":"quantitative","scale":{"domain":[-0.1,1.1],"nice":false,"zero":false},"axis":{"values":[0,0.2,0.4,0.6,0.8,1.0],"tickCount":100,"format":".1f","labelOverlap":false,"title":null}}}},
   {"data":{"name":"ref"},"transform":[{"filter":"datum.panel=='C2B6' && datum.metric=='CNN'"}],"mark":{"type":"rule","color":"#e8262a","strokeWidth":2.5,"strokeDash":[7,3]},"encoding":{"x":{"field":"fpt","type":"quantitative"}}}
  ]},
 {"width":190,"height":140,
  "layer":[
   {"data":{"name":"cnn"},"transform":[{"filter":"datum.panel=='C2B7'"}],"mark":{"type":"rule","color":"#111","strokeWidth":2.5,"clip":true},
    "encoding":{"x":{"field":"start","type":"quantitative","scale":{"domain":[-11.6,243.6],"nice":false,"zero":false},"axis":{"values":[0,50,100,150,200],"tickCount":100,"format":"d","labelOverlap":false,"title":null}},"x2":{"field":"end"},
     "y":{"field":"out","type":"quantitative","scale":{"domain":[-0.1,1.1],"nice":false,"zero":false},"axis":{"values":[0,0.2,0.4,0.6,0.8,1.0],"tickCount":100,"format":".1f","labelOverlap":false,"title":null}}}},
   {"data":{"name":"ref"},"transform":[{"filter":"datum.panel=='C2B7' && datum.metric=='CNN'"}],"mark":{"type":"rule","color":"#e8262a","strokeWidth":2.5,"strokeDash":[7,3]},"encoding":{"x":{"field":"fpt","type":"quantitative"}}},
   {"data":{"name":"leg3"},"mark":{"type":"rule","strokeWidth":2.5},
    "encoding":{"x":{"datum":100,"type":"quantitative"},"x2":{"datum":100},"y":{"datum":0.5,"type":"quantitative"},
     "color":{"field":"k3","type":"nominal","scale":{"domain":["FPT"],"range":["#e8262a"]},"legend":{"legendX":123,"legendY":160}},
     "strokeDash":{"field":"k3","type":"nominal","scale":{"domain":["FPT"],"range":[[5,3]]},"legend":{"legendX":123,"legendY":160}}}}
  ]}
]
}
